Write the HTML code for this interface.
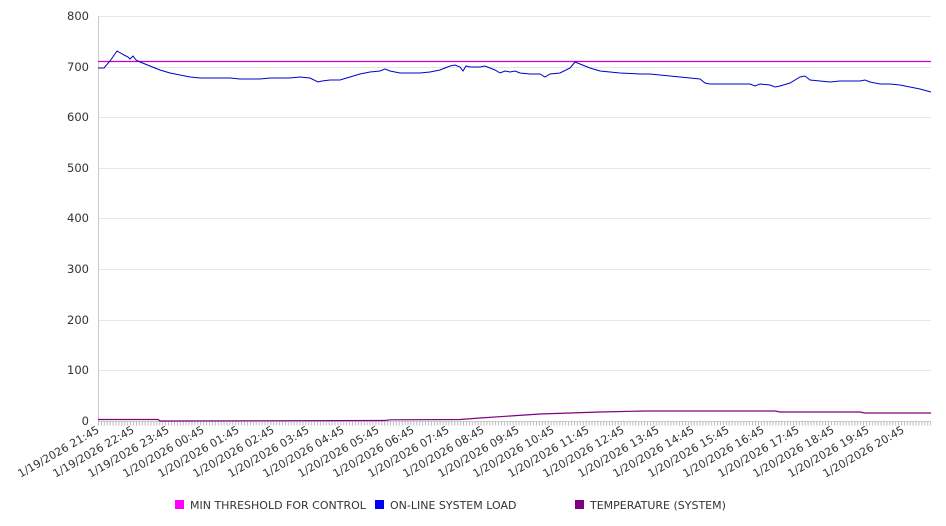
<!DOCTYPE html>
<html><head><meta charset="utf-8"><style>
html,body{margin:0;padding:0;background:#fff;}
svg{display:block;font-family:"DejaVu Sans","Liberation Sans",sans-serif;}
</style></head><body>
<svg width="946" height="526" viewBox="0 0 946 526" xmlns="http://www.w3.org/2000/svg">
<g stroke="#e6e6e6" stroke-width="1">
<line x1="98" y1="16.5" x2="931" y2="16.5"/>
<line x1="98" y1="67.5" x2="931" y2="67.5"/>
<line x1="98" y1="117.5" x2="931" y2="117.5"/>
<line x1="98" y1="168.5" x2="931" y2="168.5"/>
<line x1="98" y1="218.5" x2="931" y2="218.5"/>
<line x1="98" y1="269.5" x2="931" y2="269.5"/>
<line x1="98" y1="320.5" x2="931" y2="320.5"/>
<line x1="98" y1="370.5" x2="931" y2="370.5"/>
</g>
<line x1="98.5" y1="16" x2="98.5" y2="421" stroke="#ccc"/>
<line x1="98" y1="421.5" x2="931" y2="421.5" stroke="#ccc"/>
<line x1="98" y1="423.5" x2="931" y2="423.5" stroke="#bbb" stroke-width="4" stroke-dasharray="1 1.92"/>
<g font-size="11.5" fill="#333" text-anchor="end">
<text x="89" y="20">800</text><text x="89" y="71">700</text><text x="89" y="121">600</text>
<text x="89" y="172">500</text><text x="89" y="222">400</text><text x="89" y="273">300</text>
<text x="89" y="324">200</text><text x="89" y="374">100</text><text x="89" y="425">0</text>
</g>
<line x1="98" y1="61.5" x2="931" y2="61.5" stroke="#cc00cc" stroke-width="1.2"/>
<polyline fill="none" stroke="#0000cc" stroke-width="1" points="98,68 104,68 110,61 117,51 124,55 128,57 130,59 133,56 136,60 140,62 150,66 160,70 170,73 180,75 190,77 200,78 210,78 230,78 240,79 260,79 270,78 290,78 300,77 310,78 318,82 322,81 330,80 340,80 350,77 360,74 370,72 380,71 385,69 390,71 400,73 420,73 430,72 440,70 450,66 455,65 460,67 463,71 466,66 470,67 480,67 485,66 490,68 495,70 500,73 505,71 510,72 515,71 520,73 530,74 540,74 545,77 550,74 560,73 570,68 575,62 580,64 590,68 600,71 610,72 620,73 640,74 650,74 660,75 670,76 680,77 690,78 700,79 705,83 710,84 720,84 730,84 740,84 750,84 755,86 760,84 770,85 775,87 780,86 790,83 800,77 805,76 810,80 820,81 830,82 840,81 850,81 860,81 865,80 870,82 880,84 890,84 900,85 910,87 920,89 931,92"/>
<polyline fill="none" stroke="#800080" stroke-width="1.2" points="98,419.5 158,419.5 160,421 385,420.5 390,419.8 460,419.5 480,418 510,416 540,414 570,413 600,412 645,411 775,411 780,412 860,412 865,413 931,413"/>
<g font-size="11" fill="#333" text-anchor="end">
<text transform="translate(100,432) rotate(-30)">1/19/2026 21:45</text>
<text transform="translate(135,432) rotate(-30)">1/19/2026 22:45</text>
<text transform="translate(170,432) rotate(-30)">1/19/2026 23:45</text>
<text transform="translate(205,432) rotate(-30)">1/20/2026 00:45</text>
<text transform="translate(240,432) rotate(-30)">1/20/2026 01:45</text>
<text transform="translate(275,432) rotate(-30)">1/20/2026 02:45</text>
<text transform="translate(310,432) rotate(-30)">1/20/2026 03:45</text>
<text transform="translate(345,432) rotate(-30)">1/20/2026 04:45</text>
<text transform="translate(380,432) rotate(-30)">1/20/2026 05:45</text>
<text transform="translate(415,432) rotate(-30)">1/20/2026 06:45</text>
<text transform="translate(450,432) rotate(-30)">1/20/2026 07:45</text>
<text transform="translate(485,432) rotate(-30)">1/20/2026 08:45</text>
<text transform="translate(520,432) rotate(-30)">1/20/2026 09:45</text>
<text transform="translate(555,432) rotate(-30)">1/20/2026 10:45</text>
<text transform="translate(590,432) rotate(-30)">1/20/2026 11:45</text>
<text transform="translate(625,432) rotate(-30)">1/20/2026 12:45</text>
<text transform="translate(660,432) rotate(-30)">1/20/2026 13:45</text>
<text transform="translate(695,432) rotate(-30)">1/20/2026 14:45</text>
<text transform="translate(730,432) rotate(-30)">1/20/2026 15:45</text>
<text transform="translate(765,432) rotate(-30)">1/20/2026 16:45</text>
<text transform="translate(800,432) rotate(-30)">1/20/2026 17:45</text>
<text transform="translate(835,432) rotate(-30)">1/20/2026 18:45</text>
<text transform="translate(870,432) rotate(-30)">1/20/2026 19:45</text>
<text transform="translate(905,432) rotate(-30)">1/20/2026 20:45</text>
</g>
<g font-size="11" fill="#333">
<rect x="175" y="500" width="9" height="9" fill="#ff00ff"/>
<text x="190" y="509">MIN THRESHOLD FOR CONTROL</text>
<rect x="375" y="500" width="9" height="9" fill="#0000ff"/>
<text x="390" y="509">ON-LINE SYSTEM LOAD</text>
<rect x="575" y="500" width="9" height="9" fill="#800080"/>
<text x="590" y="509">TEMPERATURE (SYSTEM)</text>
</g>
</svg>
</body></html>
